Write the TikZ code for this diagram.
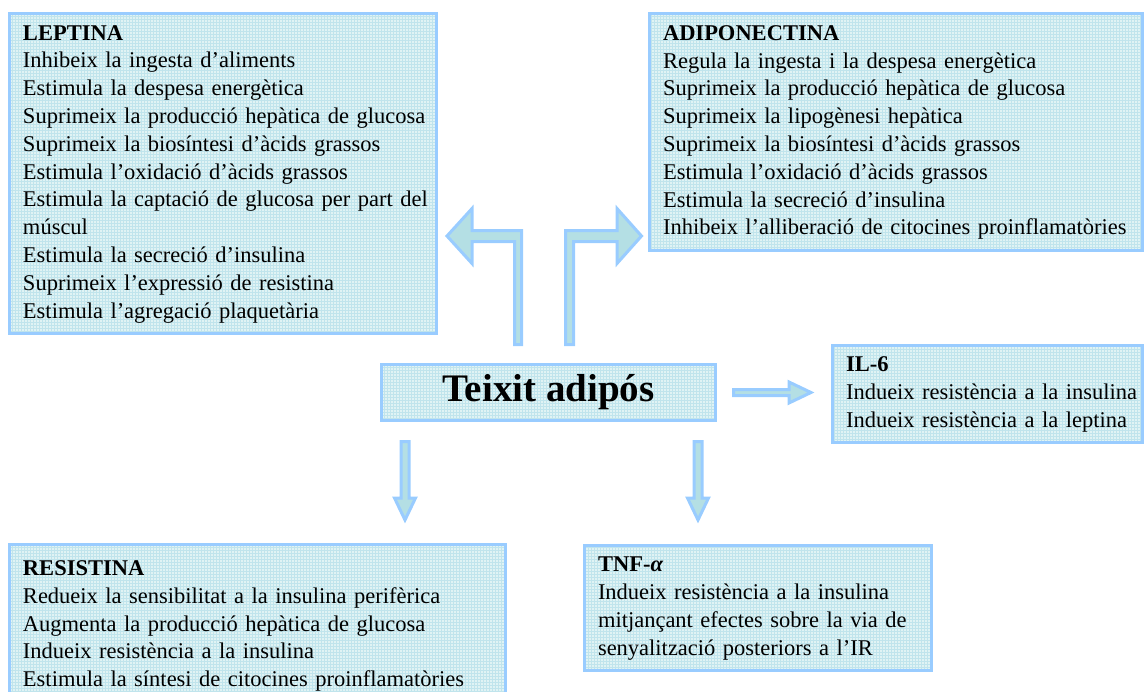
\documentclass[tikz,border=0pt]{standalone}
\usepackage{fontspec}
\setmainfont{Liberation Serif}
\usetikzlibrary{calc,patterns}

\definecolor{vora}{RGB}{153,204,255}
\definecolor{fons}{RGB}{224,243,244}
\definecolor{quadricula}{RGB}{192,228,236}
\definecolor{farciment}{RGB}{180,223,228}

\begin{document}
\begin{tikzpicture}[x=1pt, y=-1pt,
    caixa/.style={draw=vora, line width=3pt, preaction={fill=fons}, pattern=grid, pattern color=quadricula,
        anchor=north west, inner xsep=13.5pt, inner ysep=0pt, align=left, font=\fontsize{22.5}{27.8}\selectfont},
    fletxa/.style={draw=vora, line width=3pt, fill=farciment, line join=miter}]

    \useasboundingbox (0,0) rectangle (1146,691);

    \node[caixa, text width=400pt, minimum height=320pt] (leptina) at (8,12) {\begin{tabular}{@{}l@{}}
        \textbf{LEPTINA}\\
        Inhibeix la ingesta d’aliments\\
        Estimula la despesa energètica\\
        Suprimeix la producció hepàtica de glucosa\\
        Suprimeix la biosíntesi d’àcids grassos\\
        Estimula l’oxidació d’àcids grassos\\
        Estimula la captació de glucosa per part del\\
        múscul\\
        Estimula la secreció d’insulina\\
        Suprimeix l’expressió de resistina\\
        Estimula l’agregació plaquetària
    \end{tabular}};
    \node[caixa, text width=466pt, minimum height=237pt] (adiponectina) at (648,12) {\begin{tabular}{@{}l@{}}
        \textbf{ADIPONECTINA}\\
        Regula la ingesta i la despesa energètica\\
        Suprimeix la producció hepàtica de glucosa\\
        Suprimeix la lipogènesi hepàtica\\
        Suprimeix la biosíntesi d’àcids grassos\\
        Estimula l’oxidació d’àcids grassos\\
        Estimula la secreció d’insulina\\
        Inhibeix l’alliberació de citocines proinflamatòries
    \end{tabular}};
    \node[caixa, minimum width=334pt, minimum height=56pt, inner xsep=0pt,
        font=\fontsize{39}{46}\selectfont\bfseries] (teixit) at (380,363) {Teixit adipós};
    \node[caixa, text width=283pt, minimum height=97pt] (il6) at (831,344) {\begin{tabular}{@{}l@{}}
        \textbf{IL-6}\\
        Indueix resistència a la insulina\\
        Indueix resistència a la leptina
    \end{tabular}};
    \node[caixa, text width=469pt, minimum height=162pt] (resistina) at (8,543) {\begin{tabular}{@{}l@{}}
        \textbf{RESISTINA}\\
        Redueix la sensibilitat a la insulina perifèrica\\
        Augmenta la producció hepàtica de glucosa\\
        Indueix resistència a la insulina\\
        Estimula la síntesi de citocines proinflamatòries
    \end{tabular}};
    \node[caixa, text width=320pt, minimum height=125pt] (tnf) at (583,544) {\begin{tabular}{@{}l@{}}
        \textbf{TNF-\textit{α}}\\
        Indueix resistència a la insulina\\
        mitjançant efectes sobre la via de\\
        senyalització posteriors a l’IR
    \end{tabular}};

    \draw[fletxa] ($(teixit.north)+(-34,-18.5)$) -- ++(0,-103) -- ++(-42.5,0) -- ++(0,22) -- ++(-25,-27.5)
        -- ++(25,-27.5) -- ++(0,22) -- ++(49.5,0) -- ++(0,114) -- cycle;
    \draw[fletxa] ($(teixit.north)+(25,-18.5)$) -- ++(0,-103) -- ++(43.5,0) -- ++(0,22) -- ++(24.5,-27.5)
        -- ++(-24.5,-27.5) -- ++(0,22) -- ++(-51.5,0) -- ++(0,114) -- cycle;
    \draw[fletxa] ($(teixit.east)+(16.5,-3)$) -- ++(55.5,0) -- ++(0,-7.5) -- ++(22,10.5)
        -- ++(-22,10.5) -- ++(0,-7.5) -- ++(-55.5,0) -- cycle;
    \draw[fletxa] ($(teixit.south)+(-147.5,19.5)$) -- ++(8,0) -- ++(0,56.5) -- ++(6.5,0) -- ++(-10.5,22)
        -- ++(-10.5,-22) -- ++(6.5,0) -- cycle;
    \draw[fletxa] ($(teixit.south)+(145.5,19.5)$) -- ++(8,0) -- ++(0,56.5) -- ++(6.5,0) -- ++(-10.5,22)
        -- ++(-10.5,-22) -- ++(6.5,0) -- cycle;

\end{tikzpicture}
\end{document}
